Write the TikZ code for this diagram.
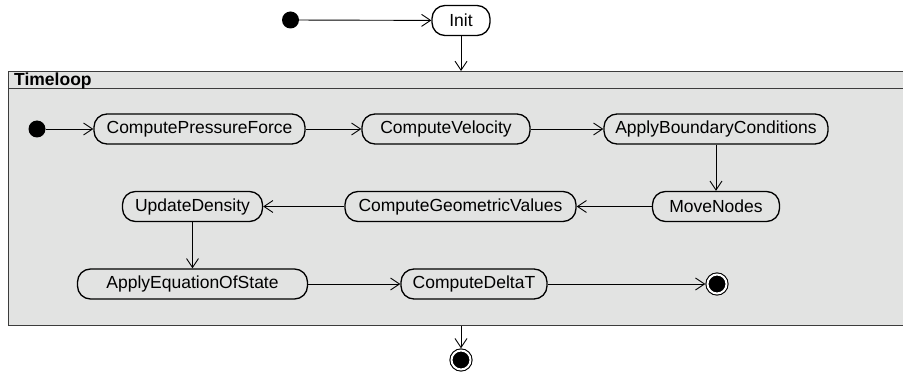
\documentclass[tikz,border=0pt]{standalone}
\usepackage{fontspec}
\setmainfont{Liberation Sans}
\usetikzlibrary{arrows.meta}
\definecolor{loopgray}{RGB}{226,227,226}
\definecolor{framegray}{RGB}{60,60,60}
\tikzstyle{activity} = [rectangle, rounded corners=13pt, minimum height=30pt, inner sep=0pt, draw=black, line width=1.3pt, font=\fontsize{17.5}{21}\selectfont]
\tikzstyle{arrow} = [line width=0.9pt, -{Straight Barb[length=9pt,width=12pt]}]
\tikzstyle{startdot} = [circle, fill=black, minimum size=17pt, inner sep=0pt]
\tikzstyle{enddot} = [circle, fill=black, draw=black, line width=1.1pt, double=white, double distance=2pt, minimum size=19pt, inner sep=0pt, outer sep=2.2pt]

\begin{document}
\begin{tikzpicture}[x=1pt, y=-1pt]
	\useasboundingbox (0,0) rectangle (903,374);
	% frame of the loop
	\node[draw=framegray, fill=loopgray, line width=1.3pt, anchor=north west, minimum width=910pt, minimum height=254pt, inner sep=0pt] (loop) at (8,71) {};
	\draw[framegray, line width=1pt] (8,89) -- (918,89);
	\node[anchor=base west, inner sep=0pt, font=\fontsize{17.5}{21}\selectfont\bfseries] (looptitle) at (14,86) {Timeloop};

	\node[startdot] (start) at (290.5,20) {};
	\node[activity, fill=white, minimum width=58pt] (init) at (461,20.5) {Init};

	\node[startdot] (loopstart) at (37,129) {};
	\node[activity, minimum width=211pt] (cpf) at (199.5,129) {ComputePressureForce};
	\node[activity, minimum width=168pt] (cv) at (446,129) {ComputeVelocity};
	\node[activity, minimum width=224pt] (abc) at (716,129) {ApplyBoundaryConditions};
	\node[activity, minimum width=127pt] (mn) at (716,206.5) {MoveNodes};
	\node[activity, minimum width=231pt] (cgv) at (460.5,206.5) {ComputeGeometricValues};
	\node[activity, minimum width=140pt] (ud) at (192.5,206.5) {UpdateDensity};
	\node[activity, minimum width=230pt] (aeos) at (192.5,284) {ApplyEquationOfState};
	\node[activity, minimum width=146pt] (cdt) at (474,284) {ComputeDeltaT};
	\node[enddot] (loopend) at (717,284) {};

	\node[enddot] (final) at (461,360) {};

	\draw[arrow] (start) -- (init);
	\draw[arrow] (init) -- (init |- loop.north);
	\draw[arrow] (loopstart) -- (cpf);
	\draw[arrow] (cpf) -- (cv);
	\draw[arrow] (cv) -- (abc);
	\draw[arrow] (abc) -- (mn);
	\draw[arrow] (mn) -- (cgv);
	\draw[arrow] (cgv) -- (ud);
	\draw[arrow] (ud) -- (aeos);
	\draw[arrow] (aeos) -- (cdt);
	\draw[arrow] (cdt) -- (loopend);
	\draw[arrow] (final |- loop.south) -- (final);
\end{tikzpicture}
\end{document}
